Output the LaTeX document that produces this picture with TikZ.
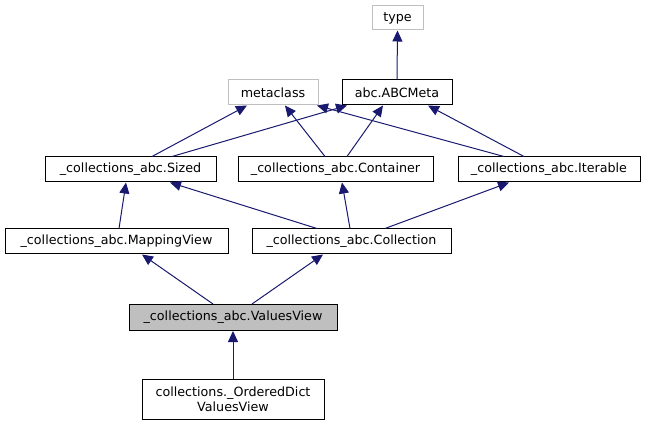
\documentclass[tikz,border=0pt]{standalone}
\usepackage{fontspec}
\setmainfont{DejaVu Sans}
\usetikzlibrary{arrows.meta,calc}
\definecolor{edgeblue}{HTML}{191970}
\definecolor{graybd}{HTML}{BFBFBF}
\begin{document}
\begin{tikzpicture}[x=1pt,y=-1pt,
  box/.style={draw=black,line width=1pt,inner sep=0pt,align=center,font=\fontsize{12.7}{15}\selectfont},
  gbox/.style={box,draw=graybd},
  edge/.style={draw=edgeblue,line width=1pt,-{Triangle[length=11pt,width=10pt]}}]
\useasboundingbox (0,0) rectangle (646,425);
\node[gbox,minimum width=51pt,minimum height=24pt] (type) at (397.5,18) {type};
\node[gbox,minimum width=90pt,minimum height=25pt] (meta) at (273,92.5) {metaclass};
\node[box,minimum width=110pt,minimum height=25pt] (abc) at (397,92.5) {abc.ABCMeta};
\node[box,minimum width=171pt,minimum height=25pt] (sized) at (130.5,169.5) {\_collections\_abc.Sized};
\node[box,minimum width=195pt,minimum height=25pt] (cont) at (335.5,169.5) {\_collections\_abc.Container};
\node[box,minimum width=182pt,minimum height=25pt] (iter) at (549,169.5) {\_collections\_abc.Iterable};
\node[box,minimum width=223pt,minimum height=25pt] (map) at (116.5,241.5) {\_collections\_abc.MappingView};
\node[box,minimum width=199pt,minimum height=25pt] (coll) at (351.5,241.5) {\_collections\_abc.Collection};
\node[box,fill=graybd,minimum width=208pt,minimum height=26pt] (vals) at (233,317.5) {\_collections\_abc.ValuesView};
\node[box,minimum width=182pt,minimum height=40pt] (odv) at (233,399) {collections.\_OrderedDict\\ValuesView};
% edges
\draw[edge] (abc.north) -- (type.south);
\draw[edge] ([xshift=21.5pt]sized.north) -- ([xshift=-26pt]meta.south);
\draw[edge] ([xshift=41.5pt]sized.north) -- ([xshift=-50pt]abc.south);
\draw[edge] ([xshift=-10.5pt]cont.north) -- ([xshift=12pt]meta.south);
\draw[edge] ([xshift=11.5pt]cont.north) -- ([xshift=-14pt]abc.south);
\draw[edge] ([xshift=-45pt]iter.north) -- ([xshift=44pt]meta.south);
\draw[edge] ([xshift=-25pt]iter.north) -- ([xshift=31pt]abc.south);
\draw[edge] ([xshift=2.5pt]map.north) -- ([xshift=-4.5pt]sized.south);
\draw[edge] ([xshift=-34.5pt]coll.north) -- ([xshift=39.5pt]sized.south);
\draw[edge] ([xshift=-1.5pt]coll.north) -- ([xshift=6.5pt]cont.south);
\draw[edge] ([xshift=33.5pt]coll.north) -- ([xshift=-40pt]iter.south);
\draw[edge] ([xshift=-20pt]vals.north) -- ([xshift=25.5pt]map.south);
\draw[edge] ([xshift=19pt]vals.north) -- ([xshift=-28.5pt]coll.south);
\draw[edge] (odv.north) -- (vals.south);
\end{tikzpicture}
\end{document}
